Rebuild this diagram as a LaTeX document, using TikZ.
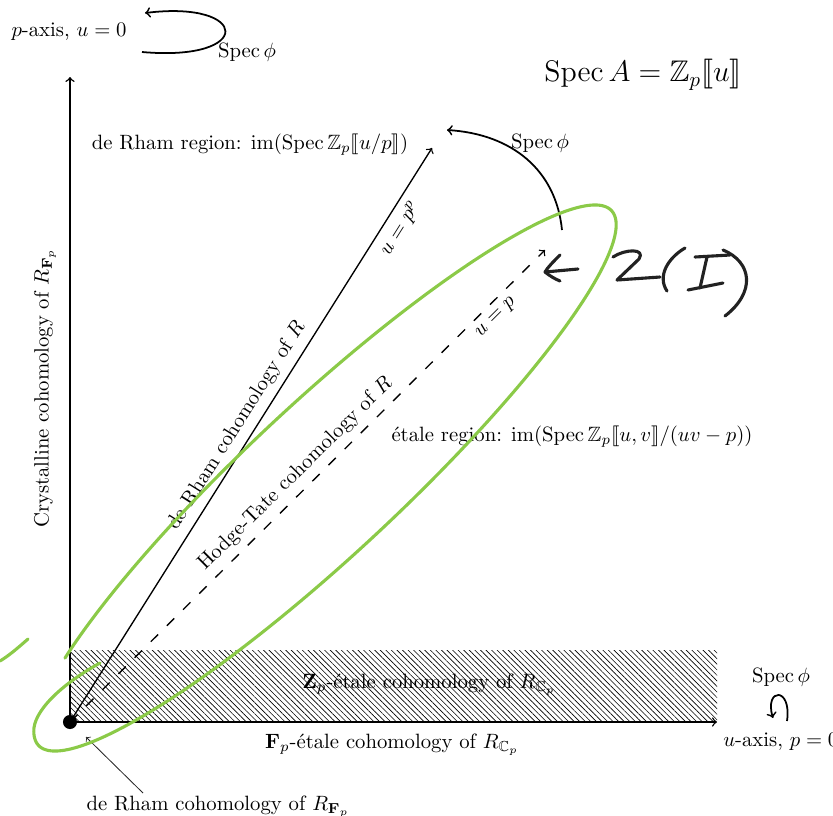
\documentclass[tikz,border=0pt]{standalone}
\usepackage{amsmath,amssymb}
\usepackage{stmaryrd}
\usetikzlibrary{patterns.meta}
\definecolor{hlgreen}{RGB}{139,202,72}
\definecolor{inkcol}{RGB}{34,34,34}
\begin{document}
\begin{tikzpicture}[x=0.483pt,y=-0.483pt,
  axis/.style={line width=0.7pt,->},
  conn/.style={line width=0.65pt,->},
  phiarrow/.style={line width=0.85pt,->},
  hl/.style={draw=hlgreen,line width=1.5pt,line cap=round,line join=round},
  ink/.style={draw=inkcol,line width=1.5pt,line cap=round,line join=round}]
\useasboundingbox (0,0) rectangle (833,815);
\coordinate (O) at (70,722);
\coordinate (Ytop) at (70,77);
\coordinate (Xend) at (717,722);
\coordinate (DR) at (432,148);
\coordinate (HT) at (545,250);
% hatched strip
\fill[pattern={Lines[angle=-45,distance=1.9pt,line width=0.3pt]}] (70,650) rectangle (717,722);
\node (zp) at (429,685) {$\mathbf{Z}_p$-\'etale cohomology of $R_{\mathbb{C}_p}$};
% axes
\draw[axis] (O) -- (Ytop);
\draw[axis] (O) -- (Xend);
\node[rotate=90] (crys) at (45,388) {Crystalline cohomology of $R_{\mathbf{F}_p}$};
\node (fp) at (392,745) {$\mathbf{F}_p$-\'etale cohomology of $R_{\mathbb{C}_p}$};
% rays
\draw[conn] (O) -- node[pos=0.5,sloped,above] {de Rham cohomology of $R$}
  node[pos=0.875,sloped,below] {$u=p^p$} (DR);
\draw[conn,dash pattern=on 5pt off 6pt] (O) -- node[pos=0.5,sloped,above] {Hodge-Tate cohomology of $R$}
  node[pos=0.877,sloped,below] {$u=p$} (HT);
\fill (O) circle (3.4pt);
% texts
\node (drreg) at (250,145) {de Rham region: $\operatorname{im}(\operatorname{Spec}\mathbb{Z}_p\llbracket u/p\rrbracket)$};
\node[font=\Large] (specA) at (643,75) {$\operatorname{Spec}A=\mathbb{Z}_p\llbracket u\rrbracket$};
\node (etreg) at (572,437) {\'etale region: $\operatorname{im}(\operatorname{Spec}\mathbb{Z}_p\llbracket u,v\rrbracket/(uv-p))$};
\node (paxis) at (69,32) {$p$-axis, $u=0$};
\node (sp1) at (247,52) {$\operatorname{Spec}\phi$};
\node (sp2) at (540,143) {$\operatorname{Spec}\phi$};
\node (sp3) at (781,677) {$\operatorname{Spec}\phi$};
\node[anchor=west] (uaxis) at (716,742) {$u$-axis, $p=0$};
\node (drF) at (218,807) {de Rham cohomology of $R_{\mathbf{F}_p}$};
% Spec phi arrows
\coordinate (a1s) at (562,230);
\coordinate (a1e) at (447,130);
\draw[phiarrow] (a1s) .. controls (556,170) and (512,134) .. (a1e);
\coordinate (a2s) at (142,52);
\coordinate (a2e) at (145,13);
\draw[phiarrow] (a2s) .. controls (255,62) and (250,0) .. (a2e);
\coordinate (a3s) at (787,721);
\coordinate (a3e) at (773,718);
\draw[phiarrow] (a3s) .. controls (792,686) and (764,688) .. (a3e);
% pointer to origin
\coordinate (pt1) at (143,793);
\coordinate (pt2) at (86,737);
\draw[thin,->,black!85] (pt1) -- (pt2);
% green hand-drawn ellipse
\draw[hl] plot[domain=217:550,samples=240,smooth]
  ({325+392*cos(\x)*0.731+76*sin(\x)*0.682},{478-392*cos(\x)*0.682+76*sin(\x)*0.731})
  .. controls (33,712) and (60,685) .. (100,663);
\draw[hl] (0,661) .. controls (10,655) and (20,646) .. (28,639);
% handwritten arrow and Z(I)
\draw[ink] (560,255) .. controls (553,262) and (548,267) .. (545,272) .. controls (550,276) and (555,279) .. (560,281);
\draw[ink] (545,272) -- (578,269);
\draw[ink] (613,257) .. controls (625,249) and (646,248) .. (639,259) -- (617,280) -- (660,277);
\draw[ink] (685,248) .. controls (668,258) and (657,276) .. (667,291);
\draw[ink] (695,257) -- (730,255);
\draw[ink] (707,257) -- (700,288);
\draw[ink] (688,290) -- (723,283);
\draw[ink] (723,250) .. controls (752,262) and (756,292) .. (725,316);
\end{tikzpicture}
\end{document}
